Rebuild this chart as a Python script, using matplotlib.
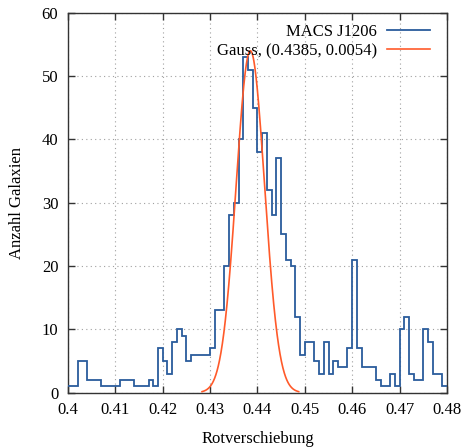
import numpy as np
import matplotlib
matplotlib.use("Agg")
import matplotlib.pyplot as plt

# Histogramm der Rotverschiebungen, Binbreite 0.001 von 0.400 bis 0.480
bin_lo = 0.400
bin_hi = 0.480
counts = [1, 1, 5, 5, 2, 2, 2, 1, 1, 1,
          1, 2, 2, 2, 1, 1, 1, 2, 1, 7,
          5, 3, 8, 10, 9, 5, 6, 6, 6, 6,
          7, 13, 13, 20, 28, 30, 40, 53, 51, 45,
          38, 41, 32, 28, 37, 25, 21, 20, 12, 6,
          8, 8, 5, 3, 8, 3, 5, 4, 4, 7,
          21, 7, 4, 4, 4, 2, 1, 1, 3, 1,
          10, 12, 3, 2, 2, 10, 8, 3, 3, 1]

# Gauss-Fit
g_mean = 0.4385
g_sigma = 0.0030
g_amp = 54.0
legend_labels = ["MACS J1206", "Gauss, (0.4385, 0.0054)"]

xticks = [0.4, 0.41, 0.42, 0.43, 0.44, 0.45, 0.46, 0.47, 0.48]
xticklabels = ["0.4", "0.41", "0.42", "0.43", "0.44", "0.45", "0.46", "0.47", "0.48"]
yticks = [0, 10, 20, 30, 40, 50, 60]

plt.rcParams['font.family'] = ['Liberation Serif', 'DejaVu Serif']
plt.rcParams['font.size'] = 12

fig = plt.figure(figsize=(4.66, 4.47), dpi=100)
ax = fig.add_axes([0.146, 0.1215, 0.813, 0.850])

edges = np.linspace(bin_lo, bin_hi, len(counts) + 1)
ax.stairs(counts, edges, baseline=None, color='#2a5c9c', lw=1.3,
          label=legend_labels[0], zorder=3)

gx = np.linspace(g_mean - 3.4 * g_sigma, g_mean + 3.4 * g_sigma, 400)
gy = g_amp * np.exp(-0.5 * ((gx - g_mean) / g_sigma) ** 2)
ax.plot(gx, gy, color='#ff5a2a', lw=1.2, label=legend_labels[1], zorder=4)

ax.set_xlim(bin_lo, bin_hi)
ax.set_ylim(0, 60)
ax.set_xticks(xticks)
ax.set_xticklabels(xticklabels)
ax.set_yticks(yticks)

ax.grid(True, color='#a0a0a0', lw=0.8, linestyle=(0, (1, 3)))
ax.set_axisbelow(True)
ax.tick_params(direction='in', length=5, width=1, top=True, right=True,
               labelsize=12, color='#333333')
ax.tick_params(axis='x', pad=7)
ax.tick_params(axis='y', pad=7)
for s in ax.spines.values():
    s.set_linewidth(1.0)
    s.set_color('#333333')

ax.set_xlabel('Rotverschiebung', fontsize=12, labelpad=9)
ax.set_ylabel('Anzahl Galaxien', fontsize=12, labelpad=12)

leg = ax.legend(loc='upper right', bbox_to_anchor=(0.960, 0.974),
                frameon=False, markerfirst=False,
                handlelength=2.6, borderaxespad=0.0, labelspacing=0.18,
                handletextpad=0.6, fontsize=12, borderpad=0.1)

fig.savefig('out.png', dpi=100)
